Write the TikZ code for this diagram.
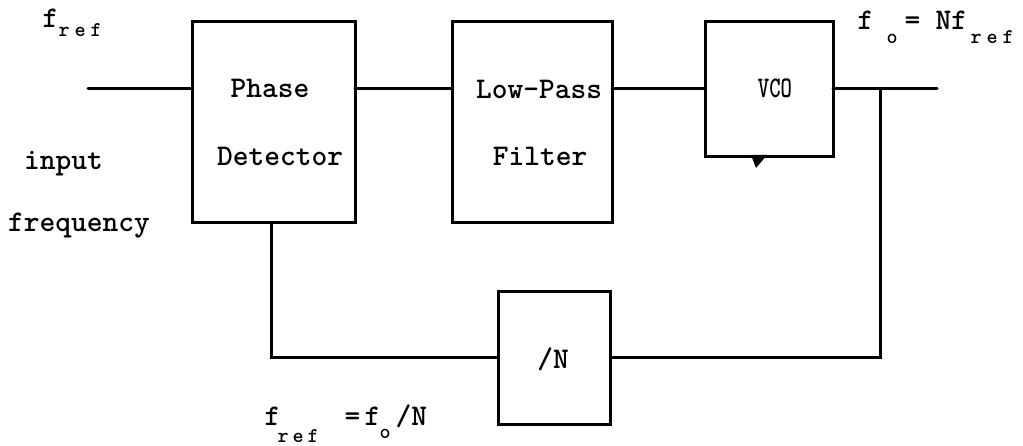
\documentclass[tikz,border=0pt]{standalone}
\usepackage{fontspec}
\usetikzlibrary{arrows.meta}
% typewriter lettering
\newcommand{\tw}{\fontsize{30}{30}\selectfont\ttfamily\bfseries}
\newcommand{\subtext}{\fontsize{21}{21}\selectfont\ttfamily\bfseries}
% place #2 at horizontal offset #1 (pt) from the start of the label
\newcommand{\putat}[2]{\makebox[0pt][l]{\kern#1pt\relax#2}}
% lowered subscript letter
\newcommand{\lowat}[3]{\putat{#1}{\raisebox{-#2pt}{\subtext #3}}}
\begin{document}
\begin{tikzpicture}[x=1pt,y=-1pt,
  wire/.style={line width=3pt, line cap=round},
  blk/.style={draw, line width=3pt, inner sep=0pt, outer sep=0pt},
  txt/.style={font=\tw, inner sep=0pt, anchor=base}]
  \useasboundingbox[fill=white] (0,0) rectangle (1023,446);

  % blocks of the loop
  \node[blk, minimum width=163pt, minimum height=201pt] (pd)  at (273.5,122.5) {};
  \node[blk, minimum width=160pt, minimum height=201pt] (lpf) at (532,122.5) {};
  \node[blk, minimum width=128pt, minimum height=135pt] (vco) at (769,89.5) {};
  \node[blk, minimum width=112pt, minimum height=132pt] (div) at (554,358) {};

  % block captions
  \node[txt] (pdA)  at (270,98)  {Phase};
  \node[txt] (pdB)  at (280,166) {Detector};
  \node[txt] (lpfA) at (539,99)  {Low-Pass};
  \node[txt] (lpfB) at (540,166) {Filter};
  \node[txt] (vcoT) at (775,98)  {\scalebox{0.72}[1]{VCO}};
  \node[txt] (divT) at (553,368) {/N};

  % input side labels
  \node[txt, anchor=base west] (inA) at (24,170)  {input};
  \node[txt, anchor=base west] (inB) at (8,232)   {frequency};

  % frequency annotations
  \node[txt, anchor=base west] (fin) at (42,28)
    {\putat{0}{f}\lowat{16}{9}{r}\lowat{32}{9}{e}\lowat{48}{9}{f}};
  \node[txt, anchor=base west] (fout) at (857,30)
    {\putat{0}{f}\lowat{29}{14}{o}\putat{47}{=}\putat{78}{Nf}%
     \lowat{113}{14}{r}\lowat{129}{14}{e}\lowat{145}{14}{f}};
  \node[txt, anchor=base west] (fdiv) at (264,425)
    {\putat{0}{f}\lowat{13}{17}{r}\lowat{28}{17}{e}\lowat{43}{17}{f}%
     \putat{80}{=}\putat{100}{f}\lowat{115}{13}{o}\putat{131}{/N}};

  % free ends of the signal path
  \coordinate (inp) at (88,89);
  \coordinate (outp) at (937,89);
  \coordinate (tap) at (880,89);

  % forward path
  \draw[wire] (inp) -- (inp -| pd.west);
  \draw[wire] (pd.east |- inp) -- (lpf.west |- inp);
  \draw[wire] (lpf.east |- inp) -- (vco.west |- inp);
  \draw[wire] (vco.east |- inp) -- (outp);

  % feedback through the divider
  \draw[wire, line cap=butt] (tap) |- (div.east);
  \draw[wire, line cap=butt] (div.west) -| (pd.south -| 271,0);

  % control input marker under the VCO
  \coordinate (vtip) at ([xshift=-10pt]vco.south);
  \fill ([xshift=-8pt,yshift=2pt]vtip) -- ([xshift=8pt,yshift=2pt]vtip)
        -- ([xshift=-3pt,yshift=-11pt]vtip) -- cycle;
\end{tikzpicture}
\end{document}
